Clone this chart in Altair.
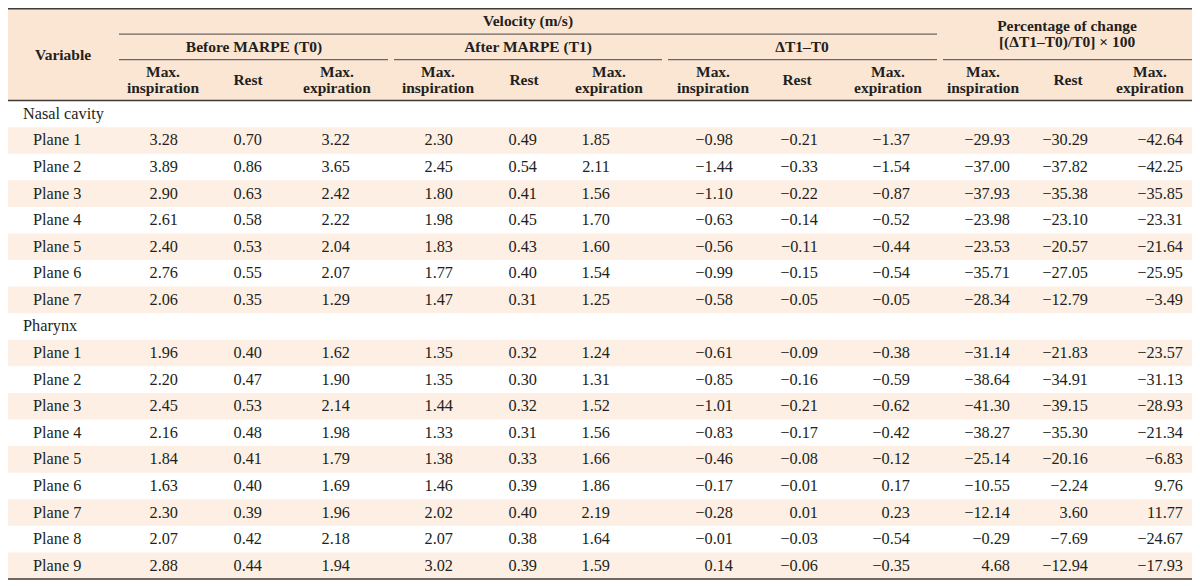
import altair as alt
import pandas as pd

# ---------------- data ----------------
sections = ["Nasal cavity", "Pharynx"]
nasal_planes = ["Plane 1", "Plane 2", "Plane 3", "Plane 4", "Plane 5", "Plane 6", "Plane 7"]
pharynx_planes = ["Plane 1", "Plane 2", "Plane 3", "Plane 4", "Plane 5", "Plane 6", "Plane 7", "Plane 8", "Plane 9"]

group_top = "Velocity (m/s)"
groups = ["Before MARPE (T0)", "After MARPE (T1)", "ΔT1–T0"]
pct_title = ["Percentage of change", "[(ΔT1–T0)/T0] × 100"]
sub_headers = [["Max.", "inspiration"], ["Rest"], ["Max.", "expiration"]] * 4

# columns: T0 insp, T0 rest, T0 exp, T1 insp, T1 rest, T1 exp, d insp, d rest, d exp, % insp, % rest, % exp
nasal_t0_insp = [3.28, 3.89, 2.90, 2.61, 2.40, 2.76, 2.06]
nasal_t0_rest = [0.70, 0.86, 0.63, 0.58, 0.53, 0.55, 0.35]
nasal_t0_exp = [3.22, 3.65, 2.42, 2.22, 2.04, 2.07, 1.29]
nasal_t1_insp = [2.30, 2.45, 1.80, 1.98, 1.83, 1.77, 1.47]
nasal_t1_rest = [0.49, 0.54, 0.41, 0.45, 0.43, 0.40, 0.31]
nasal_t1_exp = [1.85, 2.11, 1.56, 1.70, 1.60, 1.54, 1.25]
nasal_d_insp = [-0.98, -1.44, -1.10, -0.63, -0.56, -0.99, -0.58]
nasal_d_rest = [-0.21, -0.33, -0.22, -0.14, -0.11, -0.15, -0.05]
nasal_d_exp = [-1.37, -1.54, -0.87, -0.52, -0.44, -0.54, -0.05]
nasal_p_insp = [-29.93, -37.00, -37.93, -23.98, -23.53, -35.71, -28.34]
nasal_p_rest = [-30.29, -37.82, -35.38, -23.10, -20.57, -27.05, -12.79]
nasal_p_exp = [-42.64, -42.25, -35.85, -23.31, -21.64, -25.95, -3.49]

ph_t0_insp = [1.96, 2.20, 2.45, 2.16, 1.84, 1.63, 2.30, 2.07, 2.88]
ph_t0_rest = [0.40, 0.47, 0.53, 0.48, 0.41, 0.40, 0.39, 0.42, 0.44]
ph_t0_exp = [1.62, 1.90, 2.14, 1.98, 1.79, 1.69, 1.96, 2.18, 1.94]
ph_t1_insp = [1.35, 1.35, 1.44, 1.33, 1.38, 1.46, 2.02, 2.07, 3.02]
ph_t1_rest = [0.32, 0.30, 0.32, 0.31, 0.33, 0.39, 0.40, 0.38, 0.39]
ph_t1_exp = [1.24, 1.31, 1.52, 1.56, 1.66, 1.86, 2.19, 1.64, 1.59]
ph_d_insp = [-0.61, -0.85, -1.01, -0.83, -0.46, -0.17, -0.28, -0.01, 0.14]
ph_d_rest = [-0.09, -0.16, -0.21, -0.17, -0.08, -0.01, 0.01, -0.03, -0.06]
ph_d_exp = [-0.38, -0.59, -0.62, -0.42, -0.12, 0.17, 0.23, -0.54, -0.35]
ph_p_insp = [-31.14, -38.64, -41.30, -38.27, -25.14, -10.55, -12.14, -0.29, 4.68]
ph_p_rest = [-21.83, -34.91, -39.15, -35.30, -20.16, -2.24, 3.60, -7.69, -12.94]
ph_p_exp = [-23.57, -31.13, -28.93, -21.34, -6.83, 9.76, 11.77, -24.67, -17.93]

nasal_cols = [nasal_t0_insp, nasal_t0_rest, nasal_t0_exp, nasal_t1_insp, nasal_t1_rest, nasal_t1_exp,
              nasal_d_insp, nasal_d_rest, nasal_d_exp, nasal_p_insp, nasal_p_rest, nasal_p_exp]
ph_cols = [ph_t0_insp, ph_t0_rest, ph_t0_exp, ph_t1_insp, ph_t1_rest, ph_t1_exp,
           ph_d_insp, ph_d_rest, ph_d_exp, ph_p_insp, ph_p_rest, ph_p_exp]

# ---------------- layout (page pixel space) ----------------
X0, X1 = 8, 1192
Y0, Y1 = 8, 586
TOP_Y = 8.5
HEAD_BOTTOM = 100.4
ROW_H = 26.6
LINE_GAP = 16  # spacing of two-line header cells


def hy(y_ref):
    # header positions, squeezed into the space between page top margin and the first row
    return TOP_Y + (y_ref - 3) * (HEAD_BOTTOM - TOP_Y) / (HEAD_BOTTOM - 3)


VEL_LINE_Y = hy(30)
GROUP_LINE_Y = hy(57)
COL_RIGHT = [178, 262, 350, 453, 537, 610, 733, 818, 910, 1010, 1088, 1183]
HDR_CENTER = [163, 248, 337, 438, 524, 609, 713, 797, 888, 983, 1068, 1150]
GROUP_CENTER = [254, 528, 802]
GROUP_SPANS = [(119, 388), (394, 662), (668, 937), (943, 1192)]
SECTION_X = 23
PLANE_X = 33
FONT = "Liberation Serif"
INK = "#231f20"
HEAD_BG = "#fbe6d4"
ROW_BG = "#fdefe4"

xs = alt.Scale(domain=[X0, X1], nice=False, zero=False)
ys = alt.Scale(domain=[Y0, Y1], nice=False, zero=False, reverse=True)


def fmt(v):
    return f"{v:.2f}".replace("-", "−")


rows = []
k = 0
for sec, planes, cols in [(sections[0], nasal_planes, nasal_cols), (sections[1], pharynx_planes, ph_cols)]:
    rows.append({"k": k, "kind": "section", "label": sec, "vals": None})
    k += 1
    for i, p in enumerate(planes):
        rows.append({"k": k, "kind": "plane", "label": p, "vals": [c[i] for c in cols]})
        k += 1
n_rows = k


def row_center(k):
    return HEAD_BOTTOM + ROW_H * (k + 0.5)


bands = pd.DataFrame([
    {"x": X0, "x2": X1, "y": HEAD_BOTTOM + ROW_H * r["k"], "y2": HEAD_BOTTOM + ROW_H * (r["k"] + 1)}
    for r in rows if r["k"] % 2 == 1
])
head_bg = pd.DataFrame([{"x": X0, "x2": X1, "y": TOP_Y, "y2": HEAD_BOTTOM}])

labels = pd.DataFrame(
    [{"x": SECTION_X if r["kind"] == "section" else PLANE_X, "y": row_center(r["k"]), "t": r["label"]} for r in rows]
)
nums = []
for r in rows:
    if r["vals"] is None:
        continue
    for j, v in enumerate(r["vals"]):
        nums.append({"x": COL_RIGHT[j], "y": row_center(r["k"]), "t": fmt(v)})
nums = pd.DataFrame(nums)

sub_mid = (GROUP_LINE_Y + HEAD_BOTTOM) / 2
pct_mid = (TOP_Y + GROUP_LINE_Y) / 2
heads = [{"x": 63, "y": (TOP_Y + HEAD_BOTTOM) / 2, "t": "Variable"},
         {"x": 528, "y": (TOP_Y + VEL_LINE_Y) / 2, "t": group_top}]
for c, g in zip(GROUP_CENTER, groups):
    heads.append({"x": c, "y": (VEL_LINE_Y + GROUP_LINE_Y) / 2, "t": g})
heads.append({"x": 1067, "y": pct_mid - LINE_GAP / 2, "t": pct_title[0]})
heads.append({"x": 1067, "y": pct_mid + LINE_GAP / 2, "t": pct_title[1]})
for c, sh in zip(HDR_CENTER, sub_headers):
    if len(sh) == 2:
        heads.append({"x": c, "y": sub_mid - LINE_GAP / 2, "t": sh[0]})
        heads.append({"x": c, "y": sub_mid + LINE_GAP / 2, "t": sh[1]})
    else:
        heads.append({"x": c, "y": sub_mid, "t": sh[0]})
heads = pd.DataFrame(heads)

thin = pd.DataFrame(
    [{"x": 119, "x2": 937, "y": VEL_LINE_Y}] +
    [{"x": a, "x2": b, "y": GROUP_LINE_Y} for a, b in GROUP_SPANS]
)
thick = pd.DataFrame([
    {"x": X0, "x2": X1, "y": TOP_Y},
    {"x": X0, "x2": X1, "y": HEAD_BOTTOM},
    {"x": X0, "x2": X1, "y": HEAD_BOTTOM + ROW_H * n_rows},
])

X = lambda f: alt.X(f, scale=xs, axis=None)
Y = lambda f: alt.Y(f, scale=ys, axis=None)

bg_layer = alt.Chart(head_bg).mark_rect(color=HEAD_BG).encode(x=X("x:Q"), x2="x2:Q", y=Y("y:Q"), y2="y2:Q")
band_layer = alt.Chart(bands).mark_rect(color=ROW_BG).encode(x=X("x:Q"), x2="x2:Q", y=Y("y:Q"), y2="y2:Q")
thin_layer = alt.Chart(thin).mark_rule(color="#6a6563", strokeWidth=1.2).encode(x=X("x:Q"), x2="x2:Q", y=Y("y:Q"))
thick_layer = alt.Chart(thick).mark_rule(color="#3d3a39", strokeWidth=1.6).encode(x=X("x:Q"), x2="x2:Q", y=Y("y:Q"))

label_layer = alt.Chart(labels).mark_text(font=FONT, fontSize=16.3, align="left", baseline="middle", color=INK).encode(
    x=X("x:Q"), y=Y("y:Q"), text="t:N")
num_layer = alt.Chart(nums).mark_text(font=FONT, fontSize=16.3, align="right", baseline="middle", color=INK).encode(
    x=X("x:Q"), y=Y("y:Q"), text="t:N")
head_layer = alt.Chart(heads).mark_text(font=FONT, fontSize=15.5, fontWeight="bold", align="center",
                                        baseline="middle", color=INK).encode(x=X("x:Q"), y=Y("y:Q"), text="t:N")

chart = alt.layer(bg_layer, band_layer, thin_layer, thick_layer, label_layer, num_layer, head_layer).properties(
    width=1185, height=578, padding=0, autosize=alt.AutoSizeParams(type="none"), background="white"
).configure_view(stroke=None)

chart.save("out.html", embed_options={"renderer": "svg", "actions": False})
